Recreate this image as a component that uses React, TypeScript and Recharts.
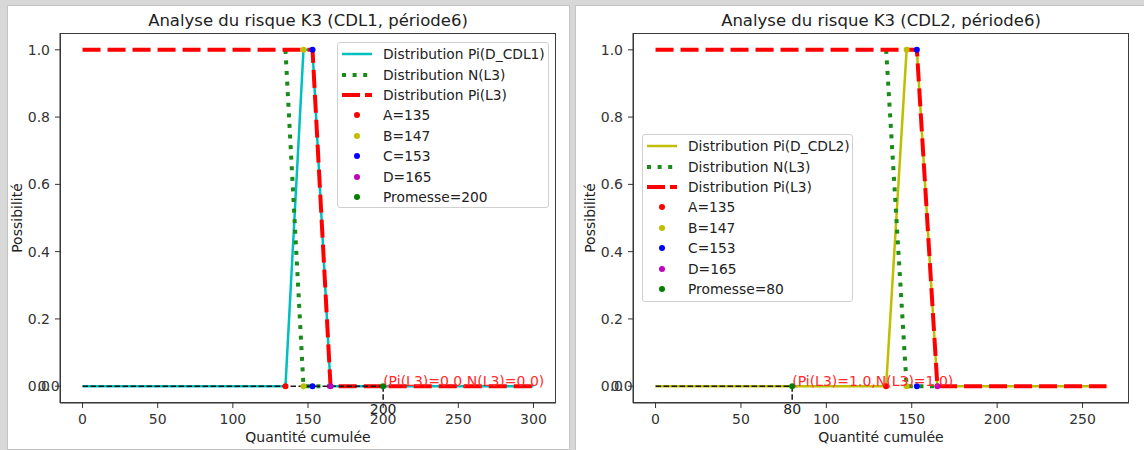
import React from 'react'
import { ComposedChart, Line, Scatter, XAxis, YAxis, ReferenceDot } from 'recharts'

const FONT = '"DejaVu Sans", sans-serif'

// Distribution Pi(D_CDL) : trapèze A, B, C, D
const piD_X1 = [0, 135, 147, 153, 165, 300]
const piD_X2 = [0, 135, 147, 153, 165, 264]
const piD_Y = [0, 0, 1, 1, 0, 0]

// Distribution N(L3)
const nL3_X = [135, 147, 153, 165]
const nL3_Y = [1, 0, 0, 0]

// Distribution Pi(L3)
const piL3_X1 = [0, 153, 165, 300]
const piL3_X2 = [0, 153, 165, 264]
const piL3_Y = [1, 1, 0, 0]

// points A..D
const ptA_X = [135]
const ptA_Y = [0]
const ptB_X = [147, 147]
const ptB_Y = [0, 1]
const ptC_X = [153, 153]
const ptC_Y = [0, 1]
const ptD_X = [165]
const ptD_Y = [0]

const promesse1 = 200
const promesse2 = 80
const annot1 = '(Pi(L3)=0.0,N(L3)=0.0)'
const annot2 = '(Pi(L3)=1.0,N(L3)=1.0)'
const zeroLabelX1 = -30
const zeroLabelX2 = -26.4

const xTicks1 = [0, 50, 100, 150, 200, 250, 300]
const xTicks2 = [0, 50, 100, 150, 200, 250]
const yTicks = [0, 0.2, 0.4, 0.6, 0.8, 1.0]

const zip = (xs: number[], ys: number[]) => xs.map((x, i) => ({ x, y: ys[i] }))

const C_CYAN = '#00bfbf'
const C_OLIVE = '#bfbf00'
const C_GREEN = '#1a8a1a'
const C_RED = '#ff0000'
const C_AXIS = '#333'

type Cfg = {
  left: number
  width: number
  margin: { top: number; right: number; bottom: number; left: number }
  xDomain: [number, number]
  xTicks: number[]
  title: string
  dLabel: string
  dColor: string
  dX: number[]
  pX: number[]
  promesse: number
  annot: string
  zeroX: number
  legend: { left: number; top: number; width: number; height: number }
}

const cfgs: Cfg[] = [
  {
    left: 0,
    width: 570,
    margin: { top: 33, right: 14, bottom: 17, left: 20 },
    xDomain: [-15, 315],
    xTicks: xTicks1,
    title: 'Analyse du risque K3 (CDL1, période6)',
    dLabel: 'Distribution Pi(D_CDL1)',
    dColor: C_CYAN,
    dX: piD_X1,
    pX: piL3_X1,
    promesse: promesse1,
    annot: annot1,
    zeroX: zeroLabelX1,
    legend: { left: 337, top: 42, width: 212, height: 166 },
  },
  {
    left: 576,
    width: 568,
    margin: { top: 33, right: 15, bottom: 17, left: 17 },
    xDomain: [-13.2, 277.2],
    xTicks: xTicks2,
    title: 'Analyse du risque K3 (CDL2, période6)',
    dLabel: 'Distribution Pi(D_CDL2)',
    dColor: C_OLIVE,
    dX: piD_X2,
    pX: piL3_X2,
    promesse: promesse2,
    annot: annot2,
    zeroX: zeroLabelX2,
    legend: { left: 66, top: 134, width: 211, height: 168 },
  },
]

const tickStyle = { fontSize: 14, fill: C_AXIS, fontFamily: FONT }

function dotShape(color: string) {
  return (p: any) => <circle cx={p.cx} cy={p.cy} r={3} fill={color} stroke="none" />
}

function Panel({ cfg }: { cfg: Cfg }) {
  const { margin } = cfg
  const plotL = margin.left + 40
  const plotR = cfg.width - margin.right
  const plotT = margin.top
  const plotB = 450 - margin.bottom - 30
  const cx = (plotL + plotR) / 2
  const legendRows = [
    { kind: 'solid', color: cfg.dColor, label: cfg.dLabel },
    { kind: 'dotted', color: C_GREEN, label: 'Distribution N(L3)' },
    { kind: 'dashed', color: C_RED, label: 'Distribution Pi(L3)' },
    { kind: 'dot', color: C_RED, label: 'A=135' },
    { kind: 'dot', color: C_OLIVE, label: 'B=147' },
    { kind: 'dot', color: '#0000ff', label: 'C=153' },
    { kind: 'dot', color: '#bf00bf', label: 'D=165' },
    { kind: 'dot', color: '#008000', label: 'Promesse=' + cfg.promesse },
  ]
  return (
    <div style={{ position: 'absolute', left: cfg.left, top: 0, width: cfg.width, height: 450 }}>
      <ComposedChart width={cfg.width} height={450} margin={margin}>
        <XAxis
          dataKey="x"
          type="number"
          domain={cfg.xDomain}
          ticks={cfg.xTicks}
          height={30}
          tick={tickStyle}
          tickSize={5}
          tickMargin={6}
          stroke={C_AXIS}
        />
        <YAxis
          dataKey="y"
          type="number"
          domain={[-0.05, 1.05]}
          ticks={yTicks}
          tickFormatter={(v: number) => v.toFixed(1)}
          width={40}
          tick={tickStyle}
          tickSize={5}
          tickMargin={5}
          stroke={C_AXIS}
        />

        <Line data={zip(cfg.dX, piD_Y)} dataKey="y" stroke={cfg.dColor} strokeWidth={2.5} dot={false} isAnimationActive={false} />
        <Line data={zip(nL3_X, nL3_Y)} dataKey="y" stroke={C_GREEN} strokeWidth={4} strokeDasharray="4 6.6" dot={false} isAnimationActive={false} />
        <Line data={zip(cfg.pX, piL3_Y)} dataKey="y" stroke={C_RED} strokeWidth={4} strokeDasharray="18 7" dot={false} isAnimationActive={false} />

        <Scatter data={zip(ptA_X, ptA_Y)} dataKey="y" shape={dotShape(C_RED)} isAnimationActive={false} />
        <Scatter data={zip(ptB_X, ptB_Y)} dataKey="y" shape={dotShape(C_OLIVE)} isAnimationActive={false} />
        <Scatter data={zip(ptC_X, ptC_Y)} dataKey="y" shape={dotShape('#0000ff')} isAnimationActive={false} />
        <Scatter data={zip(ptD_X, ptD_Y)} dataKey="y" shape={dotShape('#bf00bf')} isAnimationActive={false} />
        <Scatter data={zip([cfg.promesse], [0])} dataKey="y" shape={dotShape('#008000')} isAnimationActive={false} />

        <Line data={zip([0, cfg.promesse], [0, 0])} dataKey="y" stroke="#1a1a1a" strokeWidth={1.5} strokeDasharray="5.5 2.5" dot={false} isAnimationActive={false} />
        <Line data={zip([cfg.promesse, cfg.promesse], [0, -0.05])} dataKey="y" stroke="#1a1a1a" strokeWidth={1.5} strokeDasharray="5.5 2.5" dot={false} isAnimationActive={false} />

        <ReferenceDot
          x={cfg.zeroX}
          y={0}
          r={0}
          ifOverflow="visible"
          shape={(p: any) => (
            <text x={p.cx} y={p.cy} dominantBaseline="central" fontSize={14} fill={C_AXIS} fontFamily={FONT}>0.0</text>
          )}
        />
        <ReferenceDot
          x={cfg.promesse}
          y={-0.05}
          r={0}
          ifOverflow="visible"
          shape={(p: any) => (
            <text x={p.cx} y={p.cy + 11} textAnchor="middle" fontSize={14} fill="#222" fontFamily={FONT}>{cfg.promesse}</text>
          )}
        />
        <ReferenceDot
          x={cfg.promesse}
          y={0}
          r={0}
          ifOverflow="visible"
          shape={(p: any) => (
            <text x={p.cx} y={p.cy} fontSize={14} fill="#ff2a2a" fontFamily={FONT}>{cfg.annot}</text>
          )}
        />
      </ComposedChart>

      <div
        style={{
          position: 'absolute',
          left: plotL,
          top: plotT,
          width: plotR - plotL,
          height: plotB - plotT,
          boxSizing: 'border-box',
          border: '1px solid #3a3a3a',
          pointerEvents: 'none',
        }}
      />
      <div style={{ position: 'absolute', left: cx - 220, width: 440, top: 13, textAlign: 'center', fontFamily: FONT, fontSize: 16.5, lineHeight: 1, color: '#222', whiteSpace: 'nowrap' }}>
        {cfg.title}
      </div>
      <div style={{ position: 'absolute', left: cx - 110, width: 220, top: 429.5, textAlign: 'center', fontFamily: FONT, fontSize: 14, lineHeight: 1, color: '#222' }}>
        Quantité cumulée
      </div>
      <div style={{ position: 'absolute', left: plotL - 43, top: 218, transform: 'translate(-50%, -50%) rotate(-90deg)', fontFamily: FONT, fontSize: 14, lineHeight: 1, color: '#222', whiteSpace: 'nowrap' }}>
        Possibilité
      </div>

      <div
        style={{
          position: 'absolute',
          left: cfg.legend.left,
          top: cfg.legend.top,
          width: cfg.legend.width,
          height: cfg.legend.height,
          boxSizing: 'border-box',
          border: '1px solid #d0d0d0',
          borderRadius: 3,
          background: 'rgba(255,255,255,0.85)',
          paddingTop: 1,
        }}
      >
        {legendRows.map((r) => (
          <div key={r.label} style={{ display: 'flex', alignItems: 'center', height: 20.4, fontFamily: FONT, fontSize: 13.8, color: '#222' }}>
            <svg width={30} height={10} style={{ marginLeft: 4, marginRight: 11, flex: 'none' }}>
              {r.kind === 'solid' && <line x1={0} x2={30} y1={5} y2={5} stroke={r.color} strokeWidth={2.5} />}
              {r.kind === 'dotted' && <line x1={0} x2={30} y1={5} y2={5} stroke={r.color} strokeWidth={4} strokeDasharray="4 6.6" />}
              {r.kind === 'dashed' && <line x1={0} x2={30} y1={5} y2={5} stroke={r.color} strokeWidth={4} strokeDasharray="18 5" />}
              {r.kind === 'dot' && <circle cx={15} cy={5} r={3} fill={r.color} />}
            </svg>
            <span style={{ whiteSpace: 'nowrap' }}>{r.label}</span>
          </div>
        ))}
      </div>
    </div>
  )
}

export default function App() {
  return (
    <div style={{ position: 'absolute', left: 0, top: 0, width: 1144, height: 450, background: '#d8d8d8', overflow: 'hidden' }}>
      <div style={{ position: 'absolute', left: 7, top: 5, width: 563, height: 445, background: '#fff', boxShadow: 'inset 0 0 0 1px #c4c4c4' }} />
      <div style={{ position: 'absolute', left: 575, top: 5, width: 569, height: 445, background: '#fff', boxShadow: 'inset 1px 1px 0 0 #c4c4c4' }} />
      {cfgs.map((c) => (
        <Panel key={c.title} cfg={c} />
      ))}
    </div>
  )
}
